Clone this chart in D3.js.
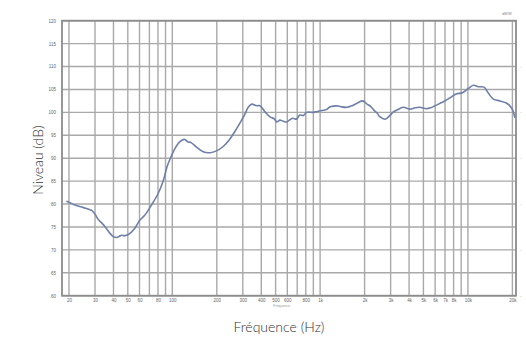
<!DOCTYPE html>
<html><head><meta charset="utf-8">
<script src="https://cdn.jsdelivr.net/npm/d3@7"></script>
<style>html,body{margin:0;padding:0;background:#fff;}svg{display:block;}</style>
</head><body>
<svg id="c" width="526" height="342"></svg>
<script>
const freqs = [19.2,20,21.9,24,27,28.5,30,31.6,33,35,37.9,39.9,42,43.5,45.4,47,49,51.7,55.8,60.4,65.3,72.4,80.2,87.1,92,98,104.6,112.6,121,127,134,146,162,180,199,220,244,273,303,328,345,372,392,424,458,490,508,535,560,594,625,657,690,729,770,809,897,960,1029,1100,1171,1330,1400,1516,1629,1780,1945,2076,2196,2311,2436,2544,2751,2981,3130,3306,3658,4054,4400,4734,5242,5600,5960,6816,7501,8299,9182,10060,10877,11760,12850,13740,14860,16480,18300,19780,20830];
const levels = [80.6,80.4,79.8,79.4,78.9,78.6,77.8,76.6,76.0,75.1,73.6,72.9,72.7,72.9,73.2,73.1,73.2,73.6,74.7,76.5,77.6,79.8,82.3,85.2,88.1,90.3,92.2,93.6,94.1,93.6,93.4,92.4,91.4,91.2,91.6,92.5,94.1,96.5,99.0,101.2,101.8,101.45,101.45,100.1,99.0,98.6,97.9,98.3,98.1,97.9,98.4,98.7,98.5,99.4,99.3,100.0,100.0,100.2,100.4,100.6,101.2,101.4,101.2,101.1,101.4,102.0,102.5,101.8,101.3,100.5,99.8,99.0,98.5,99.4,100.1,100.5,101.1,100.7,101.0,101.1,100.8,101.0,101.4,102.3,103.1,104.0,104.3,105.2,105.9,105.6,105.5,104.2,102.9,102.5,102.0,100.9,98.8];
const yTicks = [60,65,70,75,80,85,90,95,100,105,110,115,120];
const xGrid = [20,30,40,50,60,70,80,90,100,200,300,400,500,600,700,800,900,1000,2000,3000,4000,5000,6000,7000,8000,9000,10000,20000];
const xLabelVals = [20,30,40,50,60,80,100,200,300,400,500,600,800,1000,2000,3000,4000,5000,6000,7000,8000,10000,20000];
const xLabelText = ["20","30","40","50","60","80","100","200","300","400","500","600","800","1k","2k","3k","4k","5k","6k","7k","8k","10k","20k"];
const rightTicks = [110,100,90,80,70,60];

const svg = d3.select("#c");
const L=62,R=516,T=20.7,B=295.7;
const x = d3.scaleLog().domain([17.94,21150]).range([L,R]);
const y = d3.scaleLinear().domain([60,120]).range([B,T]);

const g = svg.append("g");
g.selectAll(".hg").data(yTicks).enter().append("line")
 .attr("x1",L).attr("x2",R).attr("y1",d=>y(d)).attr("y2",d=>y(d))
 .attr("stroke","#a9a9a9").attr("stroke-width",1.4);
g.selectAll(".vg").data(xGrid).enter().append("line")
 .attr("x1",d=>x(d)).attr("x2",d=>x(d)).attr("y1",T).attr("y2",B)
 .attr("stroke","#a9a9a9").attr("stroke-width",1.4);
g.append("rect").attr("x",L).attr("y",T).attr("width",R-L).attr("height",B-T)
 .attr("fill","none").attr("stroke","#8c8c8c").attr("stroke-width",1.8);

const yAxis = d3.axisLeft(y).tickValues(yTicks).tickSize(0).tickPadding(6);
const ya = svg.append("g").attr("transform",`translate(${L},0)`).call(yAxis);
ya.select(".domain").remove();
ya.selectAll("text").attr("font-size",4.5).attr("fill","#666").attr("font-family","Liberation Sans");

const xAxis = d3.axisBottom(x).tickValues(xLabelVals).tickFormat((d,i)=>xLabelText[i]).tickSize(0).tickPadding(3);
const xa = svg.append("g").attr("transform",`translate(0,${B})`).call(xAxis);
xa.select(".domain").remove();
xa.selectAll("text").attr("font-size",4.5).attr("fill","#666").attr("font-family","Liberation Sans");

const ra = svg.append("g").attr("transform",`translate(${R},0)`)
 .call(d3.axisRight(y).tickValues(rightTicks).tickSize(0).tickPadding(4).tickFormat(()=>"-"));
ra.select(".domain").remove();
ra.selectAll("text").attr("font-size",5).attr("fill","#bbb");

svg.append("text").attr("x",507).attr("y",15).attr("text-anchor","middle")
 .attr("font-size",4).attr("fill","#888").attr("font-family","Liberation Sans").text("dB/W");
svg.append("text").attr("x",x(550)).attr("y",307).attr("text-anchor","middle")
 .attr("font-size",3.5).attr("fill","#999").attr("font-family","Liberation Sans").text("Fréquence");

const line = d3.line().x((d,i)=>x(freqs[i])).y(d=>y(d)).curve(d3.curveCatmullRom.alpha(0.5));
svg.append("path").datum(levels).attr("d",line).attr("fill","none")
 .attr("stroke","#6e7fa9").attr("stroke-width",1.6);

svg.append("text").attr("transform","translate(43,160) rotate(-90)").attr("text-anchor","middle")
 .attr("font-family","Lato, 'Open Sans', sans-serif").attr("font-weight",300).attr("font-size",14)
 .attr("fill","#333").text("Niveau (dB)");
svg.append("text").attr("x",279).attr("y",332).attr("text-anchor","middle")
 .attr("font-family","Lato, 'Open Sans', sans-serif").attr("font-weight",300).attr("font-size",14)
 .attr("fill","#333").text("Fréquence (Hz)");
</script>
</body></html>
